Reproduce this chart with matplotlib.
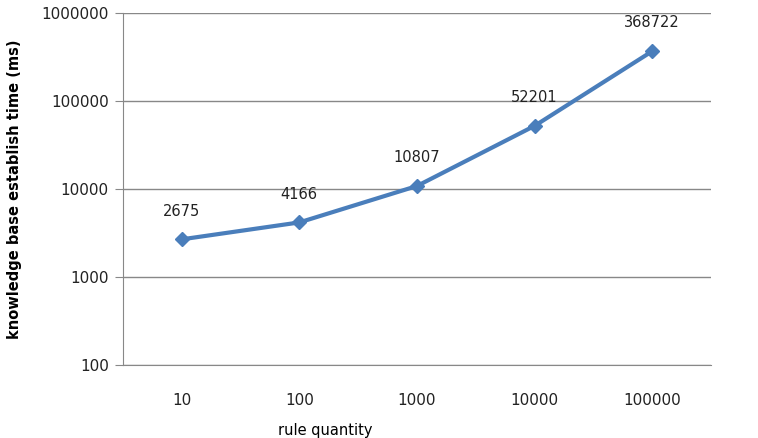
import matplotlib.pyplot as plt
import numpy as np

# data
rule_qty = ["10", "100", "1000", "10000", "100000"]
times_ms = [2675, 4166, 10807, 52201, 368722]
y_ticks = [100, 1000, 10000, 100000, 1000000]

fig = plt.figure(figsize=(7.58, 4.38), dpi=100)
ax = fig.add_axes([0.162, 0.167, 0.776, 0.803])

x = np.arange(len(rule_qty))
ax.plot(x, times_ms, color="#4a7ebb", linewidth=3, marker="D", markersize=7,
        solid_capstyle="round", zorder=3)

for xi, v in zip(x, times_ms):
    ax.annotate(str(v), (xi, v), xytext=(0, 15), textcoords="offset points",
                ha="center", va="bottom", fontsize=10.5, color="#222222")

ax.set_yscale("log")
ax.set_ylim(100, 1000000)
ax.set_yticks(y_ticks)
ax.set_yticklabels([str(t) for t in y_ticks])
ax.minorticks_off()
ax.set_xlim(-0.5, len(rule_qty) - 0.5)
ax.set_xticks(x)
ax.set_xticklabels(rule_qty)

ax.grid(axis="y", color="#888888", linewidth=1)
ax.set_axisbelow(True)
for s in ["top", "right"]:
    ax.spines[s].set_visible(False)
ax.spines["left"].set_color("#888888")
ax.spines["bottom"].set_color("#888888")
ax.tick_params(axis="y", length=6, color="#888888", labelsize=11, pad=4, labelcolor="#222222")
ax.tick_params(axis="x", length=0, labelsize=11, pad=20, labelcolor="#222222")

ax.set_xlabel("rule quantity", fontsize=10.5)
ax.xaxis.set_label_coords(0.345, -0.165)
ax.set_ylabel("knowledge base establish time (ms)", fontsize=10.5, fontweight="bold", labelpad=14)

plt.savefig("out.png", dpi=100)
